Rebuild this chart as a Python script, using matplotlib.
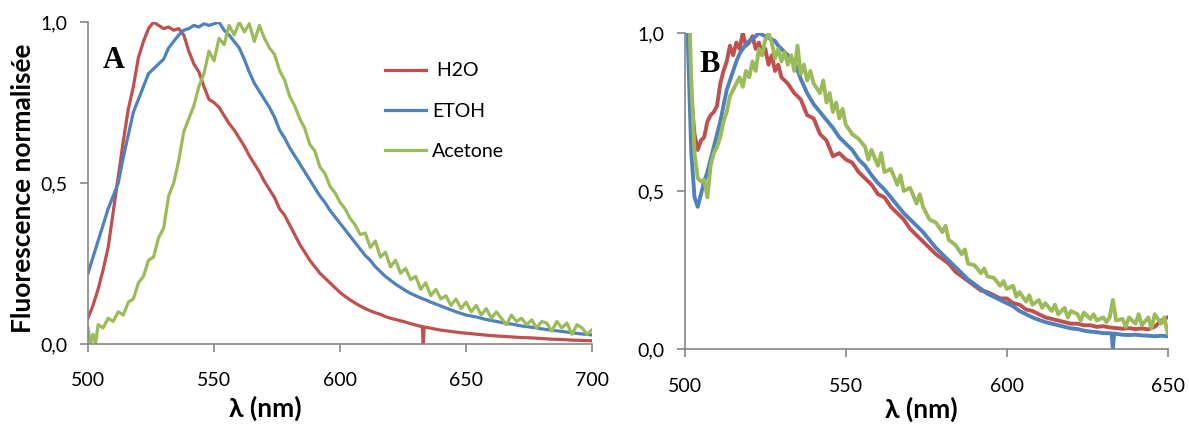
import numpy as np
import matplotlib
matplotlib.use("Agg")
import matplotlib.pyplot as plt

plt.rcParams['font.family'] = ['Lato', 'DejaVu Sans']

# Panel A : emission spectra (normalised)
wlH2oA = [500, 502, 504, 506, 508, 510, 512, 514, 516, 518, 520, 522, 524, 526, 528, 530, 532, 534, 536, 538,
          540, 542, 544, 546, 548, 550, 552, 554, 556, 558, 560, 562, 564, 566, 568, 570, 572, 574, 576, 578,
          580, 582, 584, 586, 588, 590, 592, 594, 596, 598, 600, 602, 604, 606, 608, 610, 612, 614, 616, 618,
          620, 622, 624, 626, 628, 630, 632, 632.6, 633, 633.4, 634, 636, 638, 640, 644, 648, 652, 656, 660, 664,
          668, 672, 676, 680, 684, 688, 692, 696, 700]
h2oA = [0.08, 0.12, 0.17, 0.23, 0.30, 0.41, 0.52, 0.63, 0.73, 0.80, 0.89, 0.94, 0.98, 1.00, 0.99, 0.98, 0.985, 0.975, 0.98, 0.96,
        0.91, 0.87, 0.845, 0.80, 0.76, 0.75, 0.735, 0.71, 0.685, 0.665, 0.64, 0.615, 0.585, 0.56, 0.535, 0.505, 0.48, 0.455, 0.42, 0.40,
        0.37, 0.34, 0.31, 0.285, 0.26, 0.24, 0.22, 0.205, 0.19, 0.175, 0.16, 0.148, 0.137, 0.127, 0.118, 0.11, 0.103, 0.097, 0.092, 0.085,
        0.08, 0.076, 0.072, 0.068, 0.063, 0.059, 0.055, 0.054, 0.0, 0.053, 0.052, 0.049, 0.046, 0.043, 0.039, 0.035, 0.032, 0.029, 0.026, 0.024,
        0.022, 0.02, 0.019, 0.017, 0.015, 0.014, 0.012, 0.011, 0.01]

wlEtohA = list(range(500, 702, 2))
etohA = [0.22, 0.27, 0.32, 0.37, 0.42, 0.46, 0.50, 0.58, 0.65, 0.72, 0.76, 0.80, 0.84, 0.855, 0.87, 0.885, 0.92, 0.94, 0.96, 0.975,
         0.98, 0.99, 0.985, 0.995, 0.99, 0.995, 1.0, 0.975, 0.96, 0.94, 0.92, 0.885, 0.845, 0.81, 0.785, 0.76, 0.735, 0.705, 0.665, 0.64,
         0.61, 0.585, 0.56, 0.535, 0.51, 0.485, 0.46, 0.44, 0.415, 0.395, 0.375, 0.355, 0.335, 0.315, 0.295, 0.275, 0.26, 0.24, 0.225, 0.21,
         0.198, 0.186, 0.176, 0.166, 0.157, 0.15, 0.143, 0.137, 0.13, 0.124, 0.118, 0.112, 0.106, 0.10, 0.095, 0.09, 0.087, 0.084, 0.08, 0.076,
         0.073, 0.07, 0.067, 0.064, 0.062, 0.059, 0.056, 0.054, 0.052, 0.05, 0.047, 0.045, 0.043, 0.041, 0.039, 0.037, 0.035, 0.033, 0.031, 0.03,
         0.028]

wlAcetA = [500, 501, 502, 503, 504, 506, 508, 510, 512, 514, 516, 518, 520, 522, 524, 526, 528, 530, 532, 534,
           536, 538, 540, 542, 544, 546, 548, 550, 552, 554, 556, 558, 560, 562, 564, 566, 568, 570, 572, 574,
           576, 578, 580, 582, 584, 586, 588, 590, 592, 594, 596, 598, 600, 602, 604, 606, 608, 610, 612, 614,
           616, 618, 620, 622, 624, 626, 628, 630, 632, 634, 636, 638, 640, 642, 644, 646, 648, 650, 652, 654,
           656, 658, 660, 662, 664, 666, 668, 670, 672, 674, 676, 678, 680, 682, 684, 686, 688, 690, 692, 694,
           696, 698, 700]
acetA = [0.05, 0.0, 0.03, 0.0, 0.06, 0.05, 0.08, 0.07, 0.10, 0.09, 0.13, 0.14, 0.19, 0.21, 0.26, 0.27, 0.33, 0.36, 0.46, 0.50,
         0.57, 0.66, 0.70, 0.74, 0.80, 0.84, 0.91, 0.88, 0.95, 0.93, 0.99, 0.96, 1.0, 0.97, 0.995, 0.94, 0.99, 0.95, 0.92, 0.90,
         0.85, 0.82, 0.77, 0.74, 0.70, 0.67, 0.62, 0.60, 0.55, 0.53, 0.49, 0.47, 0.44, 0.42, 0.39, 0.37, 0.34, 0.345, 0.30, 0.32,
         0.27, 0.285, 0.24, 0.26, 0.22, 0.235, 0.20, 0.21, 0.17, 0.19, 0.15, 0.17, 0.14, 0.15, 0.12, 0.14, 0.11, 0.13, 0.10, 0.12,
         0.09, 0.11, 0.08, 0.10, 0.08, 0.06, 0.09, 0.07, 0.08, 0.06, 0.075, 0.05, 0.07, 0.065, 0.04, 0.07, 0.05, 0.065, 0.03, 0.06,
         0.05, 0.03, 0.045]

# Panel B
wlH2oB = [500, 501, 502, 503, 504, 505, 506, 507, 508, 509, 510, 511, 512, 513, 514, 515, 516, 517, 518, 519,
          520, 521, 522, 523, 524, 525, 526, 527, 528, 529, 530, 532, 534, 536, 538, 540, 542, 544, 546, 548,
          550, 552, 554, 556, 558, 560, 562, 564, 566, 568, 570, 572, 574, 576, 578, 580, 582, 584, 586, 588,
          590, 592, 594, 596, 598, 600, 602, 604, 606, 608, 610, 612, 614, 616, 618, 620, 622, 624, 626, 628,
          630, 632, 634, 636, 638, 640, 642, 644, 646, 648, 650]
h2oB = [1.4, 1.05, 0.80, 0.68, 0.63, 0.66, 0.67, 0.72, 0.74, 0.75, 0.77, 0.84, 0.88, 0.91, 0.96, 0.93, 0.97, 0.95, 1.0, 0.96,
        0.97, 0.99, 0.95, 0.97, 0.93, 0.95, 0.90, 0.93, 0.88, 0.90, 0.86, 0.84, 0.81, 0.79, 0.74, 0.73, 0.68, 0.66, 0.61, 0.62,
        0.60, 0.59, 0.56, 0.54, 0.52, 0.49, 0.48, 0.45, 0.43, 0.41, 0.38, 0.36, 0.34, 0.32, 0.30, 0.285, 0.27, 0.245, 0.23, 0.215,
        0.20, 0.185, 0.18, 0.17, 0.16, 0.16, 0.145, 0.14, 0.125, 0.12, 0.11, 0.10, 0.095, 0.09, 0.085, 0.08, 0.08, 0.075, 0.075, 0.07,
        0.072, 0.068, 0.066, 0.064, 0.066, 0.063, 0.065, 0.062, 0.07, 0.09, 0.10]

wlEtohB = [500, 501, 502, 503, 504, 505, 506, 507, 508, 509, 510, 511, 512, 513, 514, 515, 516, 517, 518, 519,
           520, 521, 522, 523, 524, 525, 526, 527, 528, 529, 530, 532, 534, 536, 538, 540, 542, 544, 546, 548,
           550, 552, 554, 556, 558, 560, 562, 564, 566, 568, 570, 572, 574, 576, 578, 580, 582, 584, 586, 588,
           590, 592, 594, 596, 598, 600, 602, 604, 606, 608, 610, 612, 614, 616, 618, 620, 622, 624, 626, 628,
           630, 632, 632.6, 633, 633.4, 634, 636, 638, 640, 642, 644, 646, 648, 650]
etohB = [1.4, 0.95, 0.62, 0.48, 0.45, 0.49, 0.53, 0.56, 0.60, 0.64, 0.68, 0.72, 0.77, 0.82, 0.85, 0.88, 0.91, 0.935, 0.95, 0.965,
         0.975, 0.98, 0.99, 1.0, 0.995, 0.99, 0.985, 0.98, 0.975, 0.96, 0.95, 0.93, 0.91, 0.855, 0.81, 0.775, 0.75, 0.725, 0.70, 0.67,
         0.65, 0.63, 0.60, 0.58, 0.55, 0.525, 0.505, 0.48, 0.455, 0.43, 0.41, 0.39, 0.37, 0.345, 0.32, 0.30, 0.28, 0.26, 0.24, 0.22,
         0.205, 0.19, 0.175, 0.165, 0.155, 0.145, 0.135, 0.12, 0.11, 0.10, 0.092, 0.085, 0.08, 0.075, 0.07, 0.065, 0.063, 0.058, 0.055, 0.053,
         0.05, 0.05, 0.049, 0.0, 0.049, 0.048, 0.045, 0.044, 0.045, 0.043, 0.042, 0.04, 0.042, 0.04]

wlAcetB = [500, 501, 502, 503, 504, 505, 506, 507, 508, 509, 510, 511, 512, 513, 514, 515, 516, 517, 518, 519,
           520, 521, 522, 523, 524, 525, 526, 527, 528, 529, 530, 531, 532, 533, 534, 535, 536, 537, 538, 539,
           540, 542, 543, 544, 545, 546, 547, 548, 549, 550, 552, 554, 556, 557, 558, 560, 561, 562, 564, 566,
           567, 568, 570, 572, 573, 574, 576, 578, 580, 581, 582, 584, 586, 587, 588, 590, 592, 593, 594, 596,
           598, 599, 600, 602, 603, 604, 606, 607, 608, 610, 611, 612, 614, 615, 616, 618, 619, 620, 622, 623,
           624, 626, 627, 628, 630, 631, 632, 633, 634, 636, 637, 638, 640, 641, 642, 644, 645, 646, 648, 649,
           650]
acetB = [1.4, 1.2, 0.85, 0.62, 0.54, 0.53, 0.535, 0.48, 0.58, 0.62, 0.64, 0.67, 0.72, 0.75, 0.80, 0.82, 0.84, 0.86, 0.83, 0.88,
         0.86, 0.91, 0.88, 0.95, 0.93, 0.98, 1.0, 0.97, 0.92, 0.95, 0.91, 0.94, 0.90, 0.93, 0.88, 0.96, 0.87, 0.90, 0.85, 0.88,
         0.84, 0.81, 0.85, 0.78, 0.81, 0.75, 0.78, 0.73, 0.76, 0.71, 0.68, 0.665, 0.64, 0.60, 0.63, 0.58, 0.62, 0.56, 0.57, 0.52,
         0.55, 0.50, 0.51, 0.46, 0.49, 0.45, 0.41, 0.40, 0.37, 0.39, 0.345, 0.33, 0.30, 0.315, 0.27, 0.265, 0.24, 0.255, 0.23, 0.225,
         0.20, 0.215, 0.19, 0.20, 0.165, 0.18, 0.15, 0.17, 0.14, 0.155, 0.13, 0.145, 0.12, 0.14, 0.11, 0.13, 0.10, 0.12, 0.11, 0.09,
         0.115, 0.095, 0.11, 0.09, 0.10, 0.085, 0.10, 0.155, 0.09, 0.095, 0.07, 0.10, 0.08, 0.11, 0.075, 0.10, 0.065, 0.11, 0.08, 0.10,
         0.05]

seriesNames = [" H2O", "ETOH", "Acetone"]
colors = ["#C0504D", "#4F81BD", "#9BBB59"]
yTicks = [0.0, 0.5, 1.0]
yTickLabels = ["0,0", "0,5", "1,0"]
xTicksA = [500, 550, 600, 650, 700]
xTicksB = [500, 550, 600, 650]

axisGray = "#868686"


def StyleAxes(ax, xTicks, xPad):
    for side in ["top", "right"]:
        ax.spines[side].set_visible(False)
    for side in ["left", "bottom"]:
        ax.spines[side].set_color(axisGray)
        ax.spines[side].set_linewidth(1.2)
    ax.set_yticks(yTicks)
    ax.set_yticklabels(yTickLabels)
    ax.set_xticks(xTicks)
    ax.set_ylim(0, 1)
    ax.set_xlim(xTicks[0], xTicks[-1])
    ax.tick_params(axis="x", direction="out", length=6, width=1.2, color=axisGray, pad=xPad, labelsize=14)
    ax.tick_params(axis="y", direction="out", length=6, width=1.2, color=axisGray, pad=9, labelsize=14)


fig = plt.figure(figsize=(11.89, 4.24), dpi=100)

# Panel A
axA = fig.add_axes([0.074, 0.1887, 0.424, 0.759])
axA.plot(wlH2oA, h2oA, color=colors[0], lw=2.3, label=seriesNames[0])
axA.plot(wlEtohA, etohA, color=colors[1], lw=2.3, label=seriesNames[1])
axA.plot(wlAcetA, acetA, color=colors[2], lw=2.3, label=seriesNames[2])
StyleAxes(axA, xTicksA, 14)
axA.set_ylabel("Fluorescence normalisée", fontsize=19, fontweight="bold")
axA.yaxis.set_label_coords(-0.105, 0.484)
axA.set_xlabel("λ (nm)", fontsize=19, fontweight="bold")
axA.xaxis.set_label_coords(0.351, -0.16)
axA.text(0.03, 0.88, "A", transform=axA.transAxes, fontsize=22, fontweight="bold",
         family="Liberation Serif", va="center", ha="left")
axA.legend(loc="upper left", bbox_to_anchor=(0.59, 0.875), frameon=False, fontsize=14,
           handlelength=2.1, handletextpad=0.3, labelspacing=1.2, borderpad=0, borderaxespad=0)

# Panel B
axB = fig.add_axes([0.576, 0.177, 0.406, 0.745])
axB.plot(wlH2oB, h2oB, color=colors[0], lw=2.8)
axB.plot(wlEtohB, etohB, color=colors[1], lw=2.8)
axB.plot(wlAcetB, acetB, color=colors[2], lw=2.8)
StyleAxes(axB, xTicksB, 15)
axB.set_xlabel("λ (nm)", fontsize=19, fontweight="bold")
axB.xaxis.set_label_coords(0.49, -0.15)
axB.text(0.03, 0.9, "B", transform=axB.transAxes, fontsize=22, fontweight="bold",
         family="Liberation Serif", va="center", ha="left")

fig.savefig("out.png", dpi=100)
